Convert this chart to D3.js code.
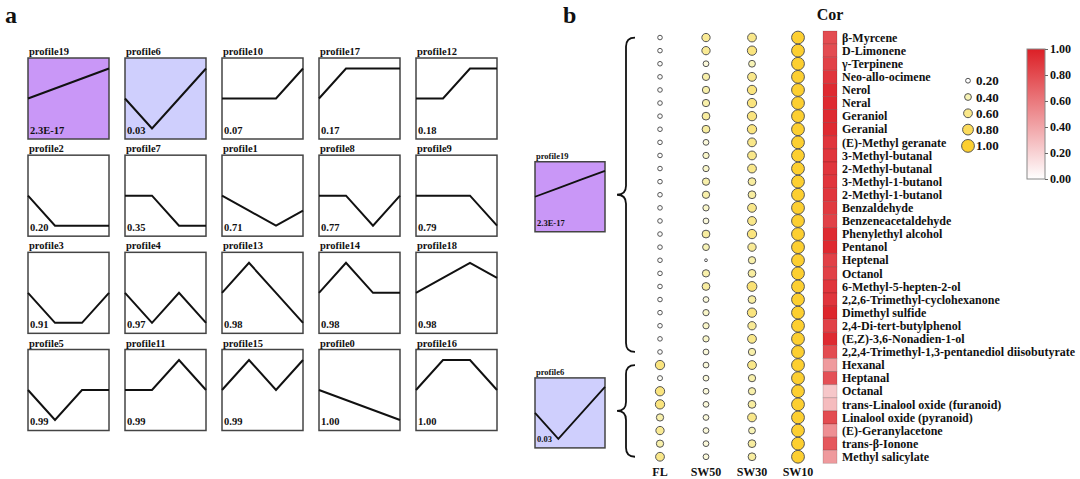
<!DOCTYPE html>
<html><head><meta charset="utf-8">
<script src="https://cdn.jsdelivr.net/npm/d3@7"></script>
<style>
html,body{margin:0;padding:0;background:#fff;}
text{font-family:"Liberation Serif","Times New Roman",serif;font-weight:bold;fill:#111;}
</style></head>
<body><svg id="chart" width="1080" height="479"></svg>
<script>
// ---------- DATA ----------
const profileNames = ["profile19","profile6","profile10","profile17","profile12",
  "profile2","profile7","profile1","profile8","profile9",
  "profile3","profile4","profile13","profile14","profile18",
  "profile5","profile11","profile15","profile0","profile16"];
const profilePvals = ["2.3E-17","0.03","0.07","0.17","0.18",
  "0.20","0.35","0.71","0.77","0.79",
  "0.91","0.97","0.98","0.98","0.98",
  "0.99","0.99","0.99","1.00","1.00"];
const profileValues = [
  [0,0.333,0.667,1],[0,-1,0,1],[0,0,0,1],[0,1,1,1],[0,0,1,1],
  [0,-1,-1,-1],[0,0,-1,-1],[0,-0.5,-1,-0.5],[0,0,-1,0],[0,0,0,-1],
  [0,-1,-1,0],[0,-1,0,-1],[0,1,0,-1],[0,1,0,0],[0,0.5,1,0.5],
  [0,-1,0,0],[0,0,1,0],[0,1,0,1],[0,-0.333,-0.667,-1],[0,1,1,0]];
const profileFills = {"profile19":"#c997f7","profile6":"#cfcffd"};

const samples = ["FL","SW50","SW30","SW10"];
const compounds = ["β-Myrcene","D-Limonene","γ-Terpinene","Neo-allo-ocimene","Nerol","Neral","Geraniol","Geranial",
  "(E)-Methyl geranate","3-Methyl-butanal","2-Methyl-butanal","3-Methyl-1-butanol","2-Methyl-1-butanol",
  "Benzaldehyde","Benzeneacetaldehyde","Phenylethyl alcohol","Pentanol","Heptenal","Octanol",
  "6-Methyl-5-hepten-2-ol","2,2,6-Trimethyl-cyclohexanone","Dimethyl sulfide","2,4-Di-tert-butylphenol",
  "(E,Z)-3,6-Nonadien-1-ol","2,2,4-Trimethyl-1,3-pentanediol diisobutyrate",
  "Hexanal","Heptanal","Octanal","trans-Linalool oxide (furanoid)","Linalool oxide (pyranoid)",
  "(E)-Geranylacetone","trans-β-Ionone","Methyl salicylate"];
const FL   = [0.18,0.18,0.18,0.18,0.18,0.18,0.18,0.18,0.18,0.18,0.18,0.18,0.18,0.18,0.18,0.18,0.18,0.18,0.18,0.18,0.18,0.18,0.18,0.18,0.18,
              0.65,0.22,0.65,0.65,0.45,0.55,0.45,0.6];
const SW50 = [0.55,0.55,0.3,0.45,0.45,0.45,0.5,0.5,0.3,0.35,0.35,0.45,0.45,0.35,0.3,0.5,0.4,0.0,0.45,0.5,0.3,0.35,0.35,0.35,0.3,
              0.3,0.3,0.3,0.3,0.3,0.3,0.3,0.3];
const SW30 = [0.6,0.65,0.4,0.6,0.65,0.65,0.65,0.65,0.6,0.6,0.6,0.5,0.5,0.6,0.6,0.65,0.55,0.45,0.5,0.7,0.5,0.65,0.55,0.6,0.45,
              0.6,0.45,0.45,0.5,0.6,0.4,0.5,0.5];
const SW10 = [1,1,1,1,1,1,1,1,1,1,1,1,1,1,1,1,1,1,1,1,1,1,1,1,1,1,1,1,1,1,1,1,1];
const cor  = [0.8,0.8,0.85,0.9,0.95,0.95,0.95,0.95,0.9,0.9,0.9,0.9,0.9,0.88,0.85,0.95,0.95,0.85,0.85,0.9,0.9,0.97,0.85,0.95,0.8,
              0.45,0.78,0.25,0.3,0.8,0.5,0.75,0.45];
const sizeLegend = [0.2,0.4,0.6,0.8,1.0];
const corTicks = [0,0.2,0.4,0.6,0.8,1.0];
const groups = [{profile:0, from:0, to:24},{profile:1, from:25, to:32}];

// ---------- DRAW ----------
const svg = d3.select("#chart");
svg.append("rect").attr("width",1080).attr("height",479).attr("fill","#fff");

// panel letters
svg.append("text").attr("x",5).attr("y",23).style("font-size","24px").text("a");
svg.append("text").attr("x",563).attr("y",23).style("font-size","24px").text("b");

function drawProfile(g, i, size, fs, lw) {
  const name = profileNames[i];
  g.append("rect").attr("width",size).attr("height",size)
    .attr("fill", profileFills[name] || "#fff")
    .attr("stroke","#444").attr("stroke-width",1.5);
  const x = d3.scaleLinear().domain([0,3]).range([0,size]);
  const k = size/81*30;
  const y = d3.scaleLinear().domain([-1,1]).range([size/2+k, size/2-k]);
  g.append("path").datum(profileValues[i])
    .attr("d", d3.line().x((d,j)=>x(j)).y(d=>y(d)))
    .attr("fill","none").attr("stroke","#111").attr("stroke-width",lw);
  g.append("text").attr("x",1).attr("y",-3).style("font-size",fs+"px").text(name);
  g.append("text").attr("x",2).attr("y",size-5.5).style("font-size",fs+"px").text(profilePvals[i]);
}

// panel a grid
const colX = d3.scaleLinear().domain([0,4]).range([28,416]);
const rowY = d3.scaleLinear().domain([0,3]).range([58,349.5]);
profileNames.forEach((n,i)=>{
  const g = svg.append("g").attr("transform",`translate(${colX(i%5)},${rowY(Math.floor(i/5))})`);
  drawProfile(g, i, 81, 10.5, 2);
});

// panel b
const yb = d3.scaleBand().domain(compounds).range([31, 31+33*13.1]);
const yc = c => yb(c) + yb.bandwidth()/2;
const xb = d3.scalePoint().domain(samples).range([660,798]);
const rScale = d3.scaleLinear().domain([0,1]).range([1.4,6.4]);
const fillScale = d3.scaleLinear().domain([0.2,0.4,1]).range(["#ffffff","#f7f3b5","#fdcf30"]).clamp(true);
const corColor = d3.scaleLinear().domain([0,1]).range(["#ffffff","#dc1f26"]);

const seriesBy = {FL, SW50, SW30, SW10};
samples.forEach(s=>{
  svg.append("g").selectAll("circle").data(compounds).join("circle")
    .attr("cx", xb(s)).attr("cy", d=>yc(d))
    .attr("r", (d,i)=>rScale(seriesBy[s][i]))
    .attr("fill", (d,i)=>fillScale(seriesBy[s][i]))
    .attr("stroke","#555").attr("stroke-width",1);
  svg.append("text").attr("x",xb(s)).attr("y",476).attr("text-anchor","middle")
    .style("font-size","12px").text(s);
});

// heat column
svg.append("g").selectAll("rect").data(compounds).join("rect")
  .attr("x",823).attr("y",d=>yb(d)).attr("width",14).attr("height",yb.bandwidth())
  .attr("fill",(d,i)=>corColor(cor[i]))
  .attr("stroke","rgba(0,0,0,0.18)").attr("stroke-width",0.8);
svg.append("text").attr("x",830).attr("y",20).attr("text-anchor","middle")
  .style("font-size","16px").text("Cor");
svg.append("g").selectAll("text").data(compounds).join("text")
  .attr("x",842).attr("y",d=>yc(d)).attr("dy","0.35em")
  .style("font-size","12px").text(d=>d);

// braces + small profiles
groups.forEach((gr,gi)=>{
  const y0 = yc(compounds[gr.from]), y1 = yc(compounds[gr.to]), ym = (y0+y1)/2;
  const xe = 635, xm = 626, xt = 617, c = 9;
  const p = `M${xe},${y0} Q${xm},${y0} ${xm},${y0+c} L${xm},${ym-c} Q${xm},${ym} ${xt},${ym} `+
            `Q${xm},${ym} ${xm},${ym+c} L${xm},${y1-c} Q${xm},${y1} ${xe},${y1}`;
  svg.append("path").attr("d",p).attr("fill","none").attr("stroke","#111").attr("stroke-width",1.8);
  const g = svg.append("g").attr("transform",`translate(535,${ym-33})`);
  drawProfile(g, gr.profile, 70, 8.5, 1.8);
});

// size legend
const sl = svg.append("g");
sizeLegend.forEach((v,i)=>{
  const y = 80.7 + i*16.3;
  sl.append("circle").attr("cx",968).attr("cy",y).attr("r",rScale(v))
    .attr("fill",fillScale(v)).attr("stroke","#555").attr("stroke-width",1);
  sl.append("text").attr("x",976).attr("y",y).attr("dy","0.35em")
    .style("font-size","13px").text(d3.format(".2f")(v));
});

// color legend
const defs = svg.append("defs");
const grad = defs.append("linearGradient").attr("id","corGrad")
  .attr("x1",0).attr("y1",1).attr("x2",0).attr("y2",0);
corTicks.forEach(t=>grad.append("stop").attr("offset",t).attr("stop-color",corColor(t)));
const cy = d3.scaleLinear().domain([0,1]).range([179,49]);
svg.append("rect").attr("x",1027).attr("y",49).attr("width",18).attr("height",130)
  .attr("fill","url(#corGrad)").attr("stroke","#888").attr("stroke-width",1);
const ax = svg.append("g").attr("transform","translate(1045,0)")
  .call(d3.axisRight(cy).tickValues(corTicks).tickFormat(d3.format(".2f")).tickSize(3).tickPadding(2));
ax.select(".domain").remove();
ax.selectAll("line").attr("stroke","#666");
ax.selectAll("text").style("font-size","12px").style("font-family","'Liberation Serif',serif")
  .style("font-weight","bold").attr("fill","#111");
</script></body></html>
